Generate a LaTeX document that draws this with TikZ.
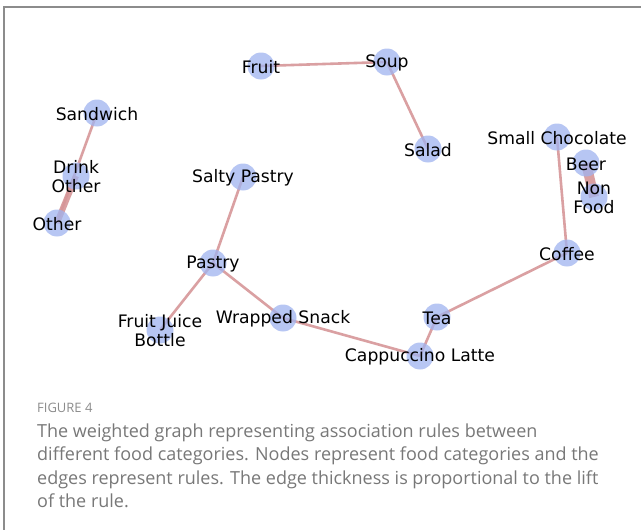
\documentclass[tikz,border=0pt]{standalone}
\usepackage{fontspec}
\newfontfamily\nxfont{DejaVu Sans}
\newfontfamily\capfont{Open Sans}
\definecolor{nodeblue}{RGB}{160,180,240}
\definecolor{edgepink}{RGB}{214,150,152}
\definecolor{framegray}{RGB}{140,140,140}
\definecolor{capgray}{RGB}{120,120,120}
\tikzset{
  nd/.style={circle, fill=nodeblue, fill opacity=0.75, draw=none, minimum size=27pt, inner sep=0pt},
  lbl/.style={font=\nxfont\fontsize{17.2}{19}\selectfont, text=black, align=center, inner sep=0pt, yshift=-1pt},
  edge/.style={draw=edgepink, draw opacity=0.9, line width=2.6pt},
  capline/.style={anchor=base west, inner sep=0pt, text=capgray, font=\capfont\fontsize{18}{20}\selectfont},
}
\begin{document}
\begin{tikzpicture}[x=1pt,y=-1pt]
\useasboundingbox (0,0) rectangle (641,530);
\fill[white] (0,0) rectangle (641,530);
\draw[framegray, line width=1.6pt] (4,530) -- (4,7) -- (641,7);

% positions
\coordinate (fruit) at (261,66);
\coordinate (soup) at (387,62);
\coordinate (salad) at (428,149);
\coordinate (sandwich) at (97,113);
\coordinate (drink) at (76,176);
\coordinate (other) at (57,223);
\coordinate (salty) at (243,177);
\coordinate (pastry) at (213,263);
\coordinate (juice) at (160,330);
\coordinate (wrapped) at (283,318);
\coordinate (tea) at (437,317);
\coordinate (capp) at (420,356);
\coordinate (coffee) at (567,253);
\coordinate (choc) at (557,137);
\coordinate (beer) at (586,163);
\coordinate (nonfood) at (594,197);

% edges
\draw[edge] (fruit) -- (soup);
\draw[edge] (soup) -- (salad);
\draw[edge] (sandwich) -- (other);
\draw[edge, line width=6pt] (drink) -- (other);
\draw[edge] (salty) -- (pastry);
\draw[edge] (pastry) -- (juice);
\draw[edge] (pastry) -- (wrapped);
\draw[edge] (wrapped) -- (capp);
\draw[edge] (capp) -- (tea);
\draw[edge] (tea) -- (coffee);
\draw[edge] (coffee) -- (choc);
\draw[edge, line width=10pt] (beer) -- (nonfood);

% node discs
\foreach \n in {fruit,soup,salad,sandwich,drink,other,salty,pastry,juice,wrapped,tea,capp,coffee,choc,beer,nonfood}
  \node[nd] (\n N) at (\n) {};

% labels
\node[lbl] (fruitL) at (fruit) {Fruit};
\node[lbl] (soupL) at (soup) {Soup};
\node[lbl] (saladL) at (salad) {Salad};
\node[lbl] (sandwichL) at (sandwich) {Sandwich};
\node[lbl] (drinkL) at (drink) {Drink\\Other};
\node[lbl] (otherL) at (other) {Other};
\node[lbl] (saltyL) at (salty) {Salty Pastry};
\node[lbl] (pastryL) at (pastry) {Pastry};
\node[lbl] (juiceL) at (juice) {Fruit Juice\\Bottle};
\node[lbl] (wrappedL) at (wrapped) {Wrapped Snack};
\node[lbl] (teaL) at (tea) {Tea};
\node[lbl] (cappL) at (capp) {Cappuccino Latte};
\node[lbl] (coffeeL) at (coffee) {Coffee};
\node[lbl] (chocL) at (choc) {Small Chocolate};
\node[lbl] (beerL) at (beer) {Beer};
\node[lbl] (nonfoodL) at (nonfood) {Non\\Food};

% caption
\node[capline, font=\capfont\fontsize{13}{14}\selectfont, text=framegray] (figlbl) at (37,412) {FIGURE 4};
\node[capline] (cap1) at (37,437) {The weighted graph representing association rules between};
\node[capline] (cap2) at (37,460.5) {different food categories. Nodes represent food categories and the};
\node[capline] (cap3) at (37,484) {edges represent rules. The edge thickness is proportional to the lift};
\node[capline] (cap4) at (37,507.5) {of the rule.};
\end{tikzpicture}
\end{document}
